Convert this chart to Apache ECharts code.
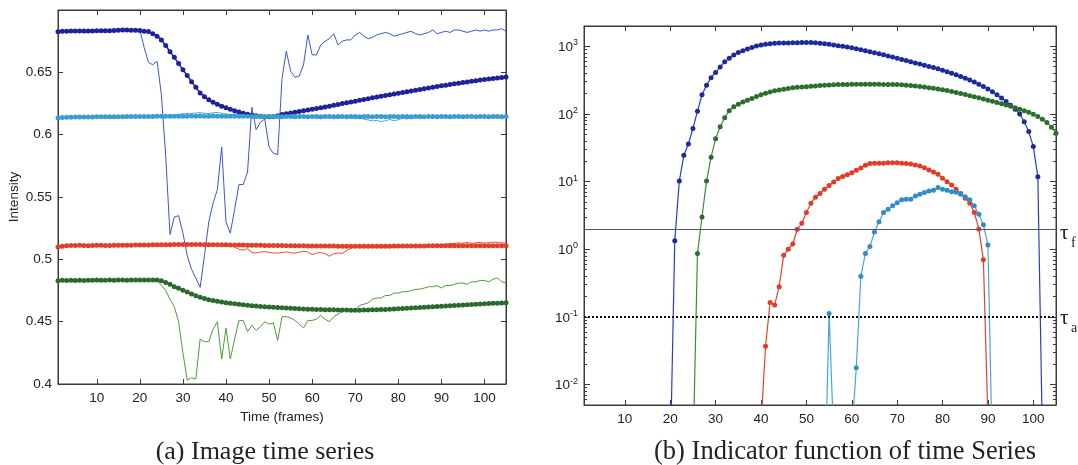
<!DOCTYPE html>
<html><head><meta charset="utf-8">
<script src="https://cdn.jsdelivr.net/npm/echarts@6/dist/echarts.min.js"></script>
<style>html,body{margin:0;padding:0;background:#fff}#c{width:1078px;height:465px}</style>
</head><body><div id="c"></div>
<script>
// ---------- tick labels ----------
const xTicks = [10, 20, 30, 40, 50, 60, 70, 80, 90, 100];
const logTicks = [0.01, 0.1, 1, 10, 100, 1000];
const logExp = { '0.01': '-2', '0.1': '-1', '1': '0', '10': '1', '100': '2', '1000': '3' };
const tauF = 2;     // solid threshold
const tauA = 0.1;   // dotted threshold

// ---------- (a) image time series, frames 1..105 ----------
const darkBlueDots = [0.6825,0.6830,0.6830,0.6831,0.6831,0.6832,0.6832,0.6831,0.6832,0.6833,
 0.6833,0.6833,0.6834,0.6835,0.6838,0.6840,0.6840,0.6838,0.6837,0.6835,
 0.6830,0.6827,0.6810,0.6790,0.6760,0.6715,0.6665,0.6620,0.6570,0.6520,
 0.6475,0.6425,0.6380,0.6335,0.6305,0.6280,0.6260,0.6243,0.6228,0.6215,
 0.6203,0.6192,0.6181,0.6171,0.6163,0.6156,0.6151,0.6147,0.6144,0.6143,
 0.6143,0.6152,0.6162,0.6168,0.6174,0.6180,0.6186,0.6192,0.6198,0.6204,
 0.6210,0.6216,0.6222,0.6228,0.6235,0.6242,0.6249,0.6256,0.6262,0.6269,
 0.6276,0.6283,0.6289,0.6296,0.6302,0.6308,0.6314,0.6320,0.6326,0.6332,
 0.6338,0.6344,0.6350,0.6356,0.6362,0.6368,0.6374,0.6380,0.6386,0.6392,
 0.6397,0.6403,0.6408,0.6413,0.6418,0.6423,0.6428,0.6433,0.6438,0.6443,
 0.6447,0.6451,0.6455,0.6458,0.6462];
const blueRaw = [0.6830,0.6832,0.6833,0.6835,0.6836,0.6836,0.6838,0.6838,0.6840,0.6838,
 0.6838,0.6840,0.6842,0.6842,0.6845,0.6846,0.6845,0.6842,0.6840,0.6838,
 0.6700,0.6580,0.6560,0.6590,0.6320,0.5830,0.5200,0.5340,0.5350,0.5210,
 0.5030,0.4920,0.4850,0.4775,0.5030,0.5300,0.5450,0.5560,0.5900,0.5300,
 0.5210,0.5400,0.5600,0.5600,0.5700,0.6220,0.6040,0.6100,0.6125,0.5900,
 0.5850,0.5840,0.6450,0.6670,0.6510,0.6460,0.6470,0.6560,0.6800,0.6640,
 0.6640,0.6720,0.6750,0.6770,0.6810,0.6720,0.6750,0.6760,0.6760,0.6800,
 0.6820,0.6790,0.6770,0.6780,0.6800,0.6810,0.6820,0.6810,0.6790,0.6800,
 0.6810,0.6820,0.6830,0.6810,0.6800,0.6810,0.6820,0.6840,0.6810,0.6820,
 0.6830,0.6820,0.6840,0.6840,0.6830,0.6820,0.6830,0.6840,0.6830,0.6840,
 0.6830,0.6840,0.6840,0.6850,0.6830];
const cyanDots = [0.6133,0.6137,0.6140,0.6140,0.6141,0.6141,0.6142,0.6142,0.6142,0.6143,
 0.6143,0.6143,0.6144,0.6144,0.6144,0.6144,0.6145,0.6145,0.6145,0.6145,
 0.6146,0.6146,0.6146,0.6147,0.6147,0.6147,0.6148,0.6148,0.6148,0.6148,
 0.6148,0.6149,0.6148,0.6149,0.6148,0.6148,0.6149,0.6148,0.6148,0.6148,
 0.6148,0.6148,0.6147,0.6147,0.6147,0.6146,0.6146,0.6146,0.6146,0.6145,
 0.6145,0.6145,0.6144,0.6145,0.6145,0.6144,0.6145,0.6145,0.6144,0.6145,
 0.6145,0.6144,0.6145,0.6145,0.6144,0.6145,0.6145,0.6144,0.6145,0.6145,
 0.6144,0.6145,0.6145,0.6144,0.6145,0.6145,0.6144,0.6145,0.6145,0.6144,
 0.6145,0.6145,0.6144,0.6145,0.6145,0.6144,0.6145,0.6145,0.6144,0.6145,
 0.6145,0.6144,0.6145,0.6145,0.6144,0.6145,0.6145,0.6144,0.6145,0.6145,
 0.6144,0.6145,0.6145,0.6144,0.6145];
const cyanRaw = [0.6133,0.6137,0.6140,0.6140,0.6141,0.6141,0.6142,0.6142,0.6142,0.6143,
 0.6143,0.6143,0.6144,0.6144,0.6144,0.6144,0.6145,0.6145,0.6145,0.6145,
 0.6146,0.6146,0.6146,0.6147,0.6147,0.6148,0.6150,0.6158,0.6163,0.6168,
 0.6172,0.6170,0.6174,0.6176,0.6172,0.6170,0.6175,0.6178,0.6172,0.6165,
 0.6160,0.6166,0.6170,0.6162,0.6155,0.6150,0.6146,0.6140,0.6145,0.6148,
 0.6140,0.6135,0.6142,0.6146,0.6138,0.6132,0.6140,0.6146,0.6143,0.6145,
 0.6135,0.6128,0.6140,0.6146,0.6140,0.6130,0.6142,0.6146,0.6138,0.6128,
 0.6136,0.6124,0.6118,0.6110,0.6115,0.6105,0.6112,0.6122,0.6112,0.6120,
 0.6132,0.6125,0.6138,0.6142,0.6128,0.6138,0.6145,0.6143,0.6146,0.6144,
 0.6145,0.6146,0.6144,0.6145,0.6146,0.6145,0.6144,0.6146,0.6145,0.6145,
 0.6146,0.6144,0.6145,0.6146,0.6145];
const redDots = [0.5098,0.5105,0.5108,0.5110,0.5110,0.5112,0.5110,0.5108,0.5110,0.5112,
 0.5112,0.5110,0.5110,0.5112,0.5113,0.5112,0.5112,0.5113,0.5114,0.5114,
 0.5115,0.5115,0.5116,0.5116,0.5117,0.5117,0.5117,0.5118,0.5118,0.5118,
 0.5118,0.5118,0.5118,0.5118,0.5117,0.5117,0.5117,0.5116,0.5116,0.5116,
 0.5115,0.5115,0.5114,0.5114,0.5113,0.5113,0.5112,0.5112,0.5111,0.5111,
 0.5110,0.5110,0.5110,0.5109,0.5109,0.5108,0.5108,0.5108,0.5107,0.5107,
 0.5107,0.5106,0.5106,0.5106,0.5106,0.5105,0.5105,0.5105,0.5105,0.5105,
 0.5105,0.5105,0.5105,0.5105,0.5105,0.5105,0.5105,0.5105,0.5106,0.5106,
 0.5106,0.5106,0.5107,0.5107,0.5107,0.5107,0.5108,0.5108,0.5108,0.5108,
 0.5108,0.5108,0.5108,0.5108,0.5108,0.5108,0.5108,0.5108,0.5108,0.5108,
 0.5108,0.5108,0.5108,0.5108,0.5108];
const redRaw = [0.5095,0.5105,0.5110,0.5112,0.5108,0.5114,0.5108,0.5106,0.5112,0.5114,
 0.5110,0.5108,0.5112,0.5114,0.5115,0.5110,0.5113,0.5115,0.5116,0.5113,
 0.5116,0.5118,0.5117,0.5115,0.5118,0.5120,0.5119,0.5122,0.5124,0.5121,
 0.5123,0.5125,0.5122,0.5120,0.5118,0.5121,0.5120,0.5117,0.5119,0.5118,
 0.5112,0.5100,0.5080,0.5075,0.5085,0.5055,0.5050,0.5058,0.5062,0.5055,
 0.5050,0.5050,0.5055,0.5060,0.5052,0.5050,0.5058,0.5065,0.5060,0.5038,
 0.5050,0.5055,0.5045,0.5025,0.5045,0.5050,0.5048,0.5070,0.5090,0.5102,
 0.5100,0.5098,0.5104,0.5100,0.5097,0.5103,0.5100,0.5106,0.5102,0.5099,
 0.5104,0.5108,0.5103,0.5106,0.5110,0.5107,0.5112,0.5115,0.5118,0.5116,
 0.5122,0.5125,0.5128,0.5132,0.5130,0.5135,0.5128,0.5132,0.5135,0.5130,
 0.5134,0.5138,0.5136,0.5132,0.5130];
const greenDots = [0.4828,0.4832,0.4830,0.4833,0.4831,0.4832,0.4830,0.4833,0.4832,0.4834,
 0.4833,0.4832,0.4834,0.4833,0.4835,0.4834,0.4833,0.4835,0.4834,0.4835,
 0.4834,0.4835,0.4835,0.4834,0.4828,0.4815,0.4800,0.4780,0.4768,0.4752,
 0.4738,0.4722,0.4708,0.4696,0.4685,0.4676,0.4670,0.4664,0.4658,0.4652,
 0.4647,0.4643,0.4639,0.4635,0.4631,0.4628,0.4625,0.4622,0.4619,0.4617,
 0.4615,0.4613,0.4611,0.4609,0.4607,0.4605,0.4603,0.4601,0.4600,0.4599,
 0.4598,0.4597,0.4596,0.4595,0.4595,0.4594,0.4593,0.4593,0.4592,0.4592,
 0.4592,0.4593,0.4594,0.4595,0.4596,0.4597,0.4598,0.4600,0.4601,0.4603,
 0.4605,0.4607,0.4609,0.4611,0.4613,0.4615,0.4617,0.4619,0.4621,0.4623,
 0.4625,0.4627,0.4629,0.4631,0.4633,0.4635,0.4637,0.4639,0.4641,0.4643,
 0.4645,0.4647,0.4648,0.4650,0.4651];
const greenRaw = [0.4828,0.4832,0.4830,0.4833,0.4831,0.4832,0.4830,0.4833,0.4832,0.4834,
 0.4833,0.4832,0.4834,0.4833,0.4835,0.4834,0.4833,0.4835,0.4834,0.4835,
 0.4834,0.4835,0.4835,0.4834,0.4790,0.4750,0.4680,0.4620,0.4500,0.4250,
 0.4030,0.4050,0.4040,0.4360,0.4340,0.4340,0.4440,0.4500,0.4200,0.4450,
 0.4200,0.4360,0.4510,0.4510,0.4420,0.4470,0.4430,0.4460,0.4500,0.4480,
 0.4490,0.4350,0.4540,0.4540,0.4530,0.4510,0.4480,0.4450,0.4510,0.4510,
 0.4520,0.4550,0.4520,0.4500,0.4540,0.4560,0.4580,0.4600,0.4595,0.4590,
 0.4630,0.4640,0.4650,0.4680,0.4690,0.4690,0.4710,0.4710,0.4730,0.4730,
 0.4740,0.4740,0.4750,0.4760,0.4760,0.4770,0.4780,0.4780,0.4790,0.4770,
 0.4790,0.4790,0.4800,0.4810,0.4810,0.4800,0.4820,0.4820,0.4830,0.4830,
 0.4820,0.4840,0.4850,0.4820,0.4810];

// ---------- (b) indicator function (log), each list starts at the given frame ----------
const blueIndStart = 20;
const blueInd = [0.0007,1.34,10.2,24.5,36,61,110,192,266,345,
 412,495,590,665,745,810,865,915,960,1010,
 1045,1075,1095,1115,1120,1122,1125,1128,1132,1136,
 1142,1145,1135,1115,1095,1075,1050,1025,1000,975,
 950,920,890,860,832,805,778,750,722,695,
 668,642,617,593,570,548,527,506,486,465,
 444,423,402,381,360,339,318,297,276,255,
 234,213,192,172,153,135,118,100,77,55,
 33,11.8,0.0017];
const greenIndStart = 25;
const greenInd = [0.0008,0.87,3.0,10.2,23,43,65,88,112,128,
 140,150,160,170,182,193,203,212,220,227,
 233,239,244,248,251,254,257,260,263,266,
 268,270,272,273,274,275,275,275,275,275,
 275,275,274,274,273,272,270,267,263,259,
 255,250,245,240,234,228,222,215,208,201,
 194,187,180,174,167,160,154,148,142,136,
 130,124,118,112,106,99,92,84,75,64,52];
const redIndStart = 40;
const redInd = [0.0025,0.037,0.164,0.15,0.28,0.82,1.0,1.2,1.98,2.43,
 3.5,4.8,5.9,6.7,7.7,8.8,9.9,11.1,11.9,12.7,
 13.5,14.7,15.9,17.5,18.5,18.7,18.7,18.8,19.1,19.1,
 19.1,18.8,18.5,18.3,17.7,17.1,16.1,14.9,13.9,12.9,
 11.2,10,8.9,7.7,6.7,5.7,4.8,3.5,2.0,0.7,0.003];
const cyanIndStart = 54;
const cyanInd = [0.0002,0.113,0.0017,0.001,0.001,0.001,0.002,0.0178,0.40,0.87,
 1.1,1.8,2.56,3.5,3.9,4.4,4.9,5.4,5.5,5.5,
 6.15,6.5,6.9,7.3,7.5,8.2,7.7,7.5,7.1,7.0,
 6.5,6.0,5.4,4.4,3.3,2.3,1.16,0.0007];

// ---------- helpers ----------
const pairs = (arr, start) => arr.map((v, i) => [start + i, v]);
const minorLog = [];
[-3, -2, -1, 0, 1, 2, 3].forEach(k => { for (let m = 2; m <= 9; m++) { const v = m * Math.pow(10, k); if (v >= 0.005 && v <= 2000) minorLog.push(+v.toPrecision(3)); } });

const FONT = 'Liberation Sans';
const AX = '#3a3a3a';

function xAx(grid, pos, withLabels, extra) {
  return Object.assign({
    type: 'value', gridIndex: grid, position: pos, min: 1, max: 105,
    axisLine: { show: true, onZero: false, lineStyle: { color: AX, width: 1 } },
    axisTick: { show: true, inside: true, length: 5, customValues: xTicks, lineStyle: { color: AX } },
    axisLabel: withLabels ? { show: true, customValues: xTicks, margin: 7, color: '#222', fontFamily: FONT, fontSize: 13.5 } : { show: false },
    splitLine: { show: false }
  }, extra || {});
}

const option = {
  animation: false,
  backgroundColor: '#ffffff',
  grid: [
    { left: 58, top: 10, width: 448, height: 374, show: true, borderColor: AX, borderWidth: 1, backgroundColor: 'transparent' },
    { left: 584, top: 26, width: 472, height: 379, show: true, borderColor: AX, borderWidth: 1, backgroundColor: 'transparent' }
  ],
  xAxis: [
    xAx(0, 'bottom', true, { name: 'Time (frames)', nameLocation: 'middle', nameGap: 23,
      nameTextStyle: { fontFamily: FONT, fontSize: 13.5, color: '#222' } }),
    xAx(0, 'top', false),
    xAx(1, 'bottom', true),
    xAx(1, 'top', false)
  ],
  yAxis: [
    { type: 'value', gridIndex: 0, position: 'left', min: 0.4, max: 0.7, interval: 0.05,
      axisLine: { show: true, lineStyle: { color: AX } },
      axisTick: { show: true, inside: true, length: 5, lineStyle: { color: AX } },
      axisLabel: { show: true, showMaxLabel: false, margin: 6, color: '#222', fontFamily: FONT, fontSize: 13.5 },
      splitLine: { show: false },
      name: 'Intensity', nameLocation: 'middle', nameGap: 37,
      nameTextStyle: { fontFamily: FONT, fontSize: 13.5, color: '#222' } },
    { type: 'value', gridIndex: 0, position: 'right', min: 0.4, max: 0.7, interval: 0.05,
      axisLine: { show: true, lineStyle: { color: AX } },
      axisTick: { show: true, inside: true, length: 5, lineStyle: { color: AX } },
      axisLabel: { show: false }, splitLine: { show: false } },
    { type: 'log', logBase: 10, gridIndex: 1, position: 'left', min: 0.005, max: 2000,
      axisLine: { show: true, lineStyle: { color: AX } },
      axisTick: { show: true, inside: true, length: 6, customValues: logTicks, lineStyle: { color: AX } },
      axisLabel: { show: true, customValues: logTicks, margin: 6, color: '#222',
        formatter: v => '{b|10}{e|' + logExp[String(+v.toPrecision(3))] + '}',
        rich: { b: { fontFamily: FONT, fontSize: 13.5, lineHeight: 16, verticalAlign: 'bottom', color: '#222' },
                e: { fontFamily: FONT, fontSize: 9, lineHeight: 9, verticalAlign: 'top', color: '#222' } } },
      splitLine: { show: false } },
    { type: 'log', logBase: 10, gridIndex: 1, position: 'right', min: 0.005, max: 2000,
      axisLine: { show: true, lineStyle: { color: AX } },
      axisTick: { show: true, inside: true, length: 6, customValues: logTicks, lineStyle: { color: AX } },
      axisLabel: { show: false }, splitLine: { show: false } },
    { type: 'log', logBase: 10, gridIndex: 1, position: 'left', min: 0.005, max: 2000,
      axisLine: { show: false },
      axisTick: { show: true, inside: true, length: 3, customValues: minorLog, lineStyle: { color: AX } },
      axisLabel: { show: false }, splitLine: { show: false } },
    { type: 'log', logBase: 10, gridIndex: 1, position: 'right', min: 0.005, max: 2000,
      axisLine: { show: false },
      axisTick: { show: true, inside: true, length: 3, customValues: minorLog, lineStyle: { color: AX } },
      axisLabel: { show: false }, splitLine: { show: false } }
  ],
  series: [
    { type: 'line', xAxisIndex: 0, yAxisIndex: 0, data: pairs(blueRaw, 1), showSymbol: false, lineStyle: { color: '#3a56d8', width: 1 }, z: 2 },
    { type: 'line', xAxisIndex: 0, yAxisIndex: 0, data: pairs(cyanRaw, 1), showSymbol: false, lineStyle: { color: '#45a8dc', width: 1 }, z: 2 },
    { type: 'line', xAxisIndex: 0, yAxisIndex: 0, data: pairs(redRaw, 1), showSymbol: false, lineStyle: { color: '#f04a38', width: 1 }, z: 2 },
    { type: 'line', xAxisIndex: 0, yAxisIndex: 0, data: pairs(greenRaw, 1), showSymbol: false, lineStyle: { color: '#4f9c3c', width: 1 }, z: 2 },
    { type: 'line', xAxisIndex: 0, yAxisIndex: 0, data: pairs(darkBlueDots, 1), symbol: 'circle', symbolSize: 5, showSymbol: true,
      itemStyle: { color: '#1c2398' }, lineStyle: { color: '#1c2398', width: 1.5 }, z: 3 },
    { type: 'line', xAxisIndex: 0, yAxisIndex: 0, data: pairs(cyanDots, 1), symbol: 'circle', symbolSize: 5, showSymbol: true,
      itemStyle: { color: '#3a9cd2' }, lineStyle: { color: '#3a9cd2', width: 1.5 }, z: 3 },
    { type: 'line', xAxisIndex: 0, yAxisIndex: 0, data: pairs(redDots, 1), symbol: 'circle', symbolSize: 5, showSymbol: true,
      itemStyle: { color: '#e23e2a' }, lineStyle: { color: '#e23e2a', width: 1.5 }, z: 3 },
    { type: 'line', xAxisIndex: 0, yAxisIndex: 0, data: pairs(greenDots, 1), symbol: 'circle', symbolSize: 5, showSymbol: true,
      itemStyle: { color: '#2a6a2e' }, lineStyle: { color: '#2a6a2e', width: 1.5 }, z: 3 },
    { type: 'line', xAxisIndex: 2, yAxisIndex: 2, data: pairs(blueInd, blueIndStart), symbol: 'circle', symbolSize: 5, showSymbol: true,
      itemStyle: { color: '#1c2a9c' }, lineStyle: { color: '#2a3cc4', width: 1.2 }, clip: true, z: 3,
      markLine: { silent: true, symbol: 'none', label: { show: false },
        data: [ { yAxis: tauF, lineStyle: { color: '#555', width: 1, type: 'solid' } },
                { yAxis: tauA, lineStyle: { color: '#111', width: 2, type: [2, 2] } } ] } },
    { type: 'line', xAxisIndex: 2, yAxisIndex: 2, data: pairs(greenInd, greenIndStart), symbol: 'circle', symbolSize: 5, showSymbol: true,
      itemStyle: { color: '#2c6e2e' }, lineStyle: { color: '#3a8c3a', width: 1.2 }, clip: true, z: 3 },
    { type: 'line', xAxisIndex: 2, yAxisIndex: 2, data: pairs(redInd, redIndStart), symbol: 'circle', symbolSize: 5, showSymbol: true,
      itemStyle: { color: '#e43a28' }, lineStyle: { color: '#e8402c', width: 1.2 }, clip: true, z: 3 },
    { type: 'line', xAxisIndex: 2, yAxisIndex: 2, data: pairs(cyanInd, cyanIndStart), symbol: 'circle', symbolSize: 5, showSymbol: true,
      itemStyle: { color: '#2f8ccc' }, lineStyle: { color: '#46a6dc', width: 1.2 }, clip: true, z: 3 }
  ],
  graphic: [
    { type: 'text', x: 265, y: 452, style: { text: '(a) Image time series', font: '26px "Liberation Serif"', fill: '#222', align: 'center', verticalAlign: 'middle' } },
    { type: 'text', x: 845, y: 452, style: { text: '(b) Indicator function of time Series', font: '26.5px "Liberation Serif"', fill: '#222', align: 'center', verticalAlign: 'middle' } },
    { type: 'text', x: 1060, y: 233, style: { text: 'τ', font: '21px "Liberation Serif"', fill: '#222', align: 'left', verticalAlign: 'middle' } },
    { type: 'text', x: 1071, y: 243, style: { text: 'f', font: '14px "Liberation Serif"', fill: '#222', align: 'left', verticalAlign: 'middle' } },
    { type: 'text', x: 1060, y: 318, style: { text: 'τ', font: '21px "Liberation Serif"', fill: '#222', align: 'left', verticalAlign: 'middle' } },
    { type: 'text', x: 1071, y: 328, style: { text: 'a', font: '14px "Liberation Serif"', fill: '#222', align: 'left', verticalAlign: 'middle' } }
  ]
};
const chart = echarts.init(document.getElementById('c'), null, { renderer: 'canvas' });
chart.setOption(option);
</script>
</body></html>
